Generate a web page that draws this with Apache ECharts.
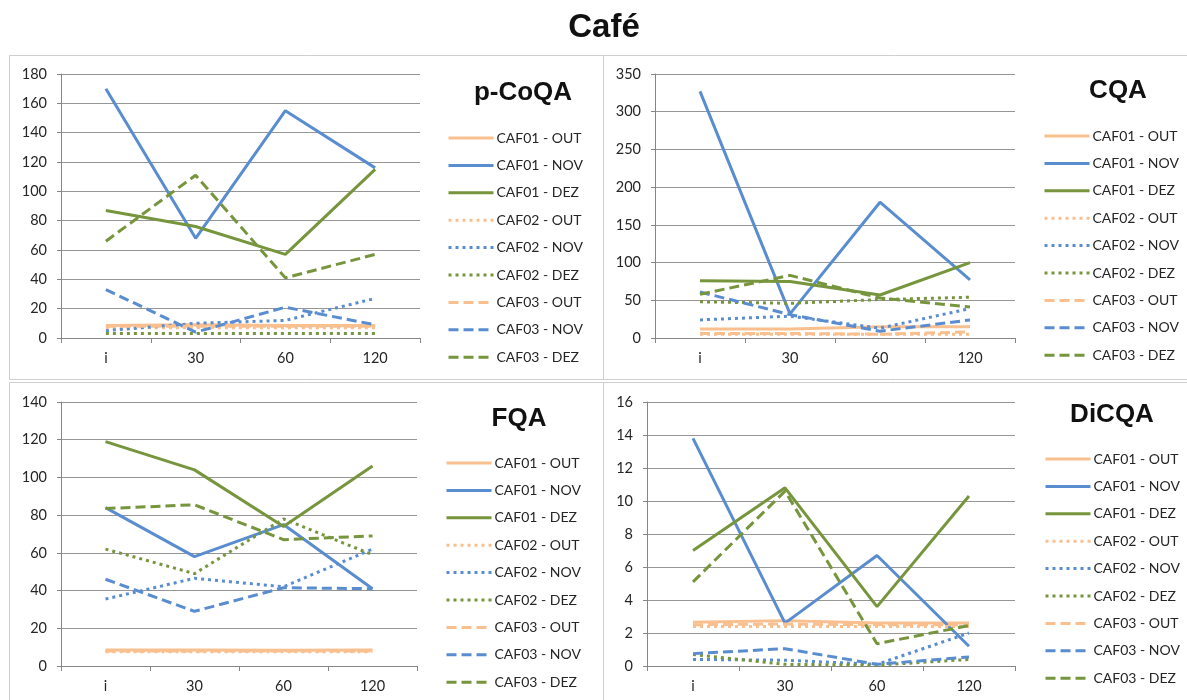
<!DOCTYPE html>
<html>
<head>
<meta charset="utf-8">
<script src="https://cdn.jsdelivr.net/npm/echarts@6/dist/echarts.min.js"></script>
<style>html,body{margin:0;padding:0;background:#fff;}#c{width:1187px;height:700px;}</style>
</head>
<body>
<div id="c"></div>
<script>
const categories = ['i', '30', '60', '120'];
const seriesNames = ['CAF01 - OUT','CAF01 - NOV','CAF01 - DEZ','CAF02 - OUT','CAF02 - NOV','CAF02 - DEZ','CAF03 - OUT','CAF03 - NOV','CAF03 - DEZ'];
const panelTitles = ['p-CoQA', 'CQA', 'FQA', 'DiCQA'];
const yMax = [180, 350, 140, 16];
const yInterval = [20, 50, 20, 2];

// p-CoQA
const pCoQA_CAF01_OUT = [8.5, 9, 8.5, 8.5];
const pCoQA_CAF01_NOV = [170, 68, 155, 116];
const pCoQA_CAF01_DEZ = [87, 76, 57, 115];
const pCoQA_CAF02_OUT = [7, 7, 7, 7];
const pCoQA_CAF02_NOV = [5, 10, 12, 27];
const pCoQA_CAF02_DEZ = [3, 3, 3, 3];
const pCoQA_CAF03_OUT = [8, 8, 8, 8];
const pCoQA_CAF03_NOV = [33, 4, 21, 9];
const pCoQA_CAF03_DEZ = [66, 111, 41, 57];
// CQA
const CQA_CAF01_OUT = [12, 12, 15, 15];
const CQA_CAF01_NOV = [327, 32, 180, 77];
const CQA_CAF01_DEZ = [76, 75, 57, 100];
const CQA_CAF02_OUT = [5, 5, 5, 5];
const CQA_CAF02_NOV = [24, 29, 13, 39];
const CQA_CAF02_DEZ = [48, 46, 51, 54];
const CQA_CAF03_OUT = [6, 6, 5, 8];
const CQA_CAF03_NOV = [61, 31, 9, 24];
const CQA_CAF03_DEZ = [58, 83, 53, 41];
// FQA
const FQA_CAF01_OUT = [8.5, 8.5, 8.3, 8.5];
const FQA_CAF01_NOV = [84, 58, 75, 41];
const FQA_CAF01_DEZ = [119, 104, 74, 106];
const FQA_CAF02_OUT = [7.5, 7.5, 7.5, 7.5];
const FQA_CAF02_NOV = [35.5, 46.5, 42, 62];
const FQA_CAF02_DEZ = [62, 49, 78, 59];
const FQA_CAF03_OUT = [8, 8, 8, 8];
const FQA_CAF03_NOV = [46, 29, 41.5, 41];
const FQA_CAF03_DEZ = [83.5, 85.5, 67, 69];
// DiCQA
const DiCQA_CAF01_OUT = [2.65, 2.75, 2.6, 2.6];
const DiCQA_CAF01_NOV = [13.8, 2.6, 6.7, 1.2];
const DiCQA_CAF01_DEZ = [7.0, 10.8, 3.6, 10.3];
const DiCQA_CAF02_OUT = [2.4, 2.4, 2.4, 2.4];
const DiCQA_CAF02_NOV = [0.4, 0.35, 0.1, 2.0];
const DiCQA_CAF02_DEZ = [0.7, 0.1, 0.05, 0.4];
const DiCQA_CAF03_OUT = [2.5, 2.55, 2.5, 2.5];
const DiCQA_CAF03_NOV = [0.75, 1.05, 0.1, 0.55];
const DiCQA_CAF03_DEZ = [5.1, 10.6, 1.35, 2.45];

const panelData = [
  [pCoQA_CAF01_OUT, pCoQA_CAF01_NOV, pCoQA_CAF01_DEZ, pCoQA_CAF02_OUT, pCoQA_CAF02_NOV, pCoQA_CAF02_DEZ, pCoQA_CAF03_OUT, pCoQA_CAF03_NOV, pCoQA_CAF03_DEZ],
  [CQA_CAF01_OUT, CQA_CAF01_NOV, CQA_CAF01_DEZ, CQA_CAF02_OUT, CQA_CAF02_NOV, CQA_CAF02_DEZ, CQA_CAF03_OUT, CQA_CAF03_NOV, CQA_CAF03_DEZ],
  [FQA_CAF01_OUT, FQA_CAF01_NOV, FQA_CAF01_DEZ, FQA_CAF02_OUT, FQA_CAF02_NOV, FQA_CAF02_DEZ, FQA_CAF03_OUT, FQA_CAF03_NOV, FQA_CAF03_DEZ],
  [DiCQA_CAF01_OUT, DiCQA_CAF01_NOV, DiCQA_CAF01_DEZ, DiCQA_CAF02_OUT, DiCQA_CAF02_NOV, DiCQA_CAF02_DEZ, DiCQA_CAF03_OUT, DiCQA_CAF03_NOV, DiCQA_CAF03_DEZ]
];

const colors = ['#F9BF8F', '#5A8DD0', '#77953D'];
const dashTypes = ['solid', [3, 4], [10, 5]];

const grids = [
  {left: 61, top: 74, width: 359, height: 264},
  {left: 655, top: 74, width: 360, height: 264},
  {left: 61, top: 402, width: 356, height: 264},
  {left: 647, top: 402, width: 368, height: 264}
];
const titlePos = [
  {left: 523, top: 80}, {left: 1118, top: 78}, {left: 519, top: 406}, {left: 1112, top: 402}
];
const legendPos = [
  {left: 447, top: 131}, {left: 1043, top: 129}, {left: 445, top: 456}, {left: 1044, top: 452}
];

const FONT = 'Lato, "Open Sans", sans-serif';
const BOLD = '"Liberation Sans", Arial, sans-serif';

const option = {
  backgroundColor: '#ffffff',
  animation: false,
  title: [{
    text: 'Café', left: 604, top: 11, textAlign: 'center', padding: 0,
    textStyle: {fontFamily: BOLD, fontWeight: 'bold', fontSize: 33, color: '#111'}
  }].concat(panelTitles.map((t, i) => ({
    text: t, left: titlePos[i].left, top: titlePos[i].top, textAlign: 'center', padding: 0,
    textStyle: {fontFamily: BOLD, fontWeight: 'bold', fontSize: 26, color: '#111'}
  }))),
  graphic: [
    {type: 'rect', shape: {x: 9.5, y: 55.5, width: 594, height: 324}, style: {fill: 'none', stroke: '#cfcfcf', lineWidth: 1}, silent: true},
    {type: 'rect', shape: {x: 603.5, y: 55.5, width: 590, height: 324}, style: {fill: 'none', stroke: '#cfcfcf', lineWidth: 1}, silent: true},
    {type: 'rect', shape: {x: 9.5, y: 382.5, width: 594, height: 330}, style: {fill: 'none', stroke: '#cfcfcf', lineWidth: 1}, silent: true},
    {type: 'rect', shape: {x: 603.5, y: 382.5, width: 590, height: 330}, style: {fill: 'none', stroke: '#cfcfcf', lineWidth: 1}, silent: true}
  ],
  grid: grids,
  legend: legendPos.map((p) => ({
    orient: 'vertical', left: p.left, top: p.top, padding: 0,
    itemWidth: 45, itemHeight: 14, itemGap: 13.4,
    data: seriesNames,
    itemStyle: {opacity: 0, borderWidth: 0},
    lineStyle: {width: 3},
    textStyle: {fontFamily: FONT, fontSize: 14, color: '#262626', padding: [0, 0, 0, -2]},
    selectedMode: false
  })),
  xAxis: grids.map((g, i) => ({
    type: 'category', gridIndex: i, data: categories, boundaryGap: true,
    axisLine: {lineStyle: {color: '#868686', width: 1}},
    axisTick: {show: true, length: 5, lineStyle: {color: '#868686'}},
    axisLabel: {fontFamily: FONT, fontSize: 14.5, color: '#262626', margin: 13},
    splitLine: {show: false}
  })),
  yAxis: grids.map((g, i) => ({
    type: 'value', gridIndex: i, min: 0, max: yMax[i], interval: yInterval[i],
    axisLine: {show: true, lineStyle: {color: '#868686', width: 1}},
    axisTick: {show: true, length: 4, lineStyle: {color: '#868686'}},
    axisLabel: {fontFamily: FONT, fontSize: 14.5, color: '#262626', margin: 14},
    splitLine: {show: true, lineStyle: {color: '#969696', width: 1}}
  })),
  series: []
};

panelData.forEach((arrs, p) => {
  arrs.forEach((vals, k) => {
    const site = Math.floor(k / 3);
    const month = k % 3;
    option.series.push({
      type: 'line', name: seriesNames[k], xAxisIndex: p, yAxisIndex: p,
      data: vals, symbol: 'none', showSymbol: false,
      lineStyle: {color: colors[month], width: 3, type: dashTypes[site]},
      itemStyle: {color: colors[month]}
    });
  });
});

const chart = echarts.init(document.getElementById('c'), null, {renderer: 'canvas'});
chart.setOption(option);
</script>
</body>
</html>
